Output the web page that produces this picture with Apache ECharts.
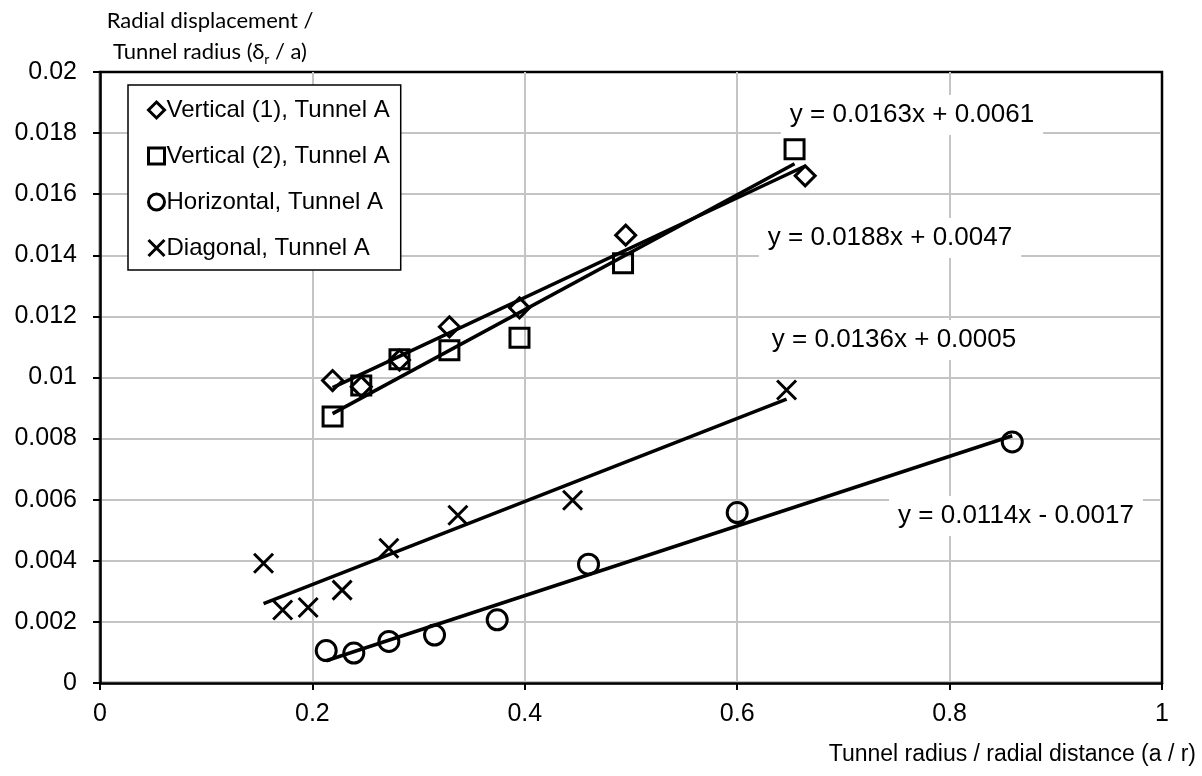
<!DOCTYPE html>
<html>
<head>
<meta charset="utf-8">
<script src="https://cdn.jsdelivr.net/npm/echarts@6/dist/echarts.min.js"></script>
<style>
html,body{margin:0;padding:0;background:#ffffff;}
#chart{width:1202px;height:776px;}
</style>
</head>
<body>
<div id="chart"></div>
<script>
// ---- data ----
const seriesNames = ['Vertical (1), Tunnel A', 'Vertical (2), Tunnel A', 'Horizontal, Tunnel A', 'Diagonal, Tunnel A'];

const vertical1 = [[0.219,0.0099],[0.246,0.0097],[0.282,0.01057],[0.329,0.01166],[0.395,0.01228],[0.495,0.01466],[0.664,0.0166]];
const vertical2 = [[0.219,0.00872],[0.246,0.00974],[0.282,0.0106],[0.329,0.01089],[0.395,0.0113],[0.4925,0.01374],[0.654,0.01747]];
const horizontal = [[0.213,0.00106],[0.239,0.00098],[0.272,0.00136],[0.315,0.00157],[0.374,0.00207],[0.460,0.00389],[0.600,0.00558],[0.859,0.00789]];
const diagonal = [[0.154,0.00392],[0.172,0.00239],[0.196,0.00247],[0.228,0.00304],[0.272,0.00441],[0.337,0.00549],[0.445,0.00598],[0.6465,0.00959]];

const trendSlopes = [0.0163, 0.0188, 0.0114, 0.0136];
const trendIntercepts = [0.0061, 0.0047, -0.0017, 0.0005];
const trendLabels = ['y = 0.0163x + 0.0061', 'y = 0.0188x + 0.0047', 'y = 0.0114x - 0.0017', 'y = 0.0136x + 0.0005'];

const xTickLabels = ['0', '0.2', '0.4', '0.6', '0.8', '1'];
const yTickLabels = ['0', '0.002', '0.004', '0.006', '0.008', '0.01', '0.012', '0.014', '0.016', '0.018', '0.02'];

const xAxisTitle = 'Tunnel radius / radial distance (a / r)';
const yAxisTitle = ['Radial displacement /', 'Tunnel radius (δ', 'r', ' / a)'];

// ---- build options ----
const allData = [vertical1, vertical2, horizontal, diagonal];
const symbols = ['diamond', 'rect', 'circle', 'path://M0 0L10 10M10 0L0 10'];
const symbolSizes = [20, 19, 20, 19];

const FONT = '"Liberation Sans", Arial, sans-serif';

const series = [];
allData.forEach((d, i) => {
  series.push({
    name: seriesNames[i],
    type: 'scatter',
    data: d,
    symbol: symbols[i],
    symbolSize: symbolSizes[i],
    itemStyle: { color: 'rgba(255,255,255,0)', borderColor: '#000', borderWidth: 3, opacity: 1 },
    z: 3,
    silent: true
  });
});
allData.forEach((d, i) => {
  const xs = d.map(p => p[0]);
  const x0 = Math.min(...xs), x1 = Math.max(...xs);
  series.push({
    name: 'trend' + i,
    type: 'line',
    data: [[x0, trendSlopes[i] * x0 + trendIntercepts[i]], [x1, trendSlopes[i] * x1 + trendIntercepts[i]]],
    symbol: 'none',
    lineStyle: { color: '#000', width: 3.5 },
    z: 4,
    silent: true,
    animation: false
  });
});

const labelPos = [[912, 115], [890, 238], [1016, 516], [894, 340]];
const graphics = trendLabels.map((t, i) => ({
  type: 'text',
  x: labelPos[i][0],
  y: labelPos[i][1],
  z: 10,
  style: {
    text: t,
    font: '26px ' + FONT,
    fill: '#000',
    align: 'center',
    verticalAlign: 'middle',
    backgroundColor: '#fff',
    padding: [7, 9, 7, 9]
  }
}));

graphics.push({
  type: 'text',
  x: 1196,
  y: 755,
  style: {
    text: xAxisTitle,
    font: '23px ' + FONT,
    fill: '#000',
    align: 'right',
    verticalAlign: 'middle'
  }
});

graphics.push({
  type: 'text',
  x: 210,
  y: 36,
  style: {
    text: '{a|' + yAxisTitle[0] + '}\n{a|' + yAxisTitle[1] + '}{s|' + yAxisTitle[2] + '}{a|' + yAxisTitle[3] + '}',
    align: 'center',
    verticalAlign: 'middle',
    fill: '#000',
    rich: {
      a: { fontFamily: 'Lato', fontSize: 22, lineHeight: 31, fill: '#000' },
      s: { fontFamily: 'Lato', fontSize: 14, lineHeight: 31, verticalAlign: 'bottom', padding: [0, 0, 1, 0], fill: '#000' }
    }
  }
});

const gridGray = '#c4c4c4';
const ySplitColors = yTickLabels.map((t, i) => i === yTickLabels.length - 1 ? '#000' : gridGray);
const xSplitColors = xTickLabels.map((t, i) => i === xTickLabels.length - 1 ? '#000' : gridGray);

const option = {
  animation: false,
  backgroundColor: '#fff',
  grid: { left: 100, right: 40, top: 72, bottom: 93, show: true, borderColor: '#000', borderWidth: 2.5, backgroundColor: 'transparent' },
  xAxis: {
    type: 'value', min: 0, max: 1, interval: 0.2,
    axisLine: { show: true, onZero: false, lineStyle: { color: '#000', width: 2.5 } },
    axisTick: { show: true, length: 7, lineStyle: { color: '#000', width: 2 } },
    axisLabel: { margin: 19, fontSize: 25, fontFamily: FONT, color: '#000', formatter: (v, i) => xTickLabels[i] },
    splitLine: { show: true, lineStyle: { color: xSplitColors, width: 2 } }
  },
  yAxis: {
    type: 'value', min: 0, max: 0.02, interval: 0.002,
    axisLine: { show: true, onZero: false, lineStyle: { color: '#000', width: 2.5 } },
    axisTick: { show: true, length: 7, lineStyle: { color: '#000', width: 2 } },
    axisLabel: { margin: 23, fontSize: 25, fontFamily: FONT, color: '#000', formatter: (v, i) => yTickLabels[i] },
    splitLine: { show: true, lineStyle: { color: ySplitColors, width: 2 } }
  },
  legend: {
    data: seriesNames,
    orient: 'vertical',
    left: 128, top: 85,
    itemWidth: 16, itemHeight: 16, itemGap: 22,
    padding: [13, 11, 10, 19],
    backgroundColor: '#fff',
    borderColor: '#000',
    borderWidth: 1.5,
    borderRadius: 0,
    selectedMode: false,
    textStyle: { fontSize: 24, lineHeight: 24, fontFamily: FONT, color: '#000', padding: [0, 0, 0, -3] },
    itemStyle: { borderWidth: 3 }
  },
  graphic: graphics,
  series: series
};

const chart = echarts.init(document.getElementById('chart'), null, { renderer: 'canvas' });
chart.setOption(option);
</script>
</body>
</html>
